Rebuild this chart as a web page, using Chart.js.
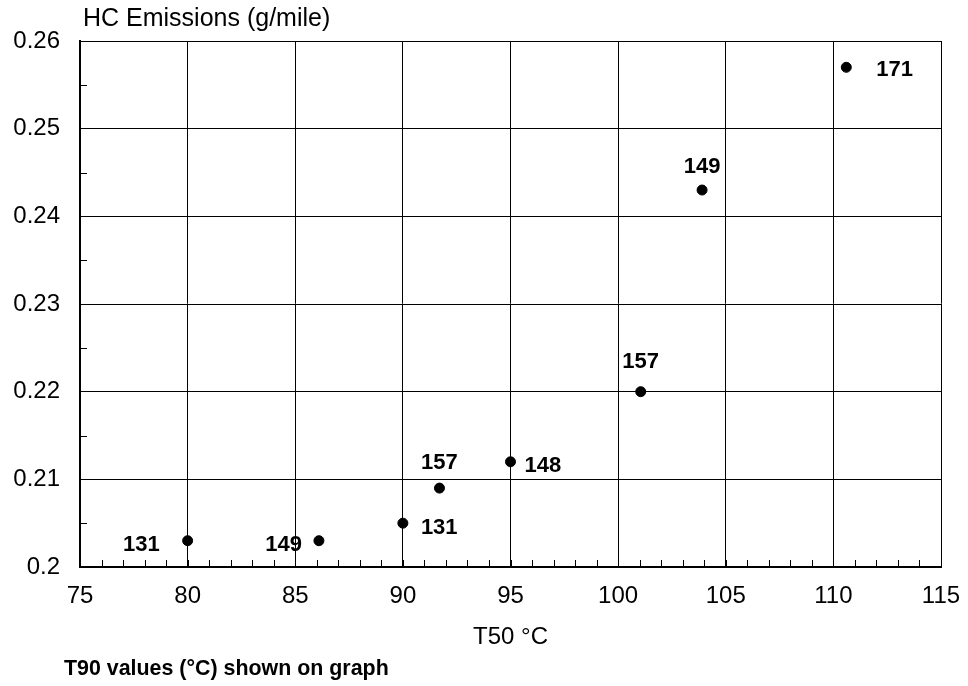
<!DOCTYPE html>
<html>
<head>
<meta charset="utf-8">
<script src="https://cdn.jsdelivr.net/npm/chart.js@4.4.0/dist/chart.umd.min.js"></script>
<style>
  html, body { margin:0; padding:0; background:#fff; }
  #wrap { width:968px; height:686px; position:relative; }
</style>
</head>
<body>
<div id="wrap"><canvas id="hcChart" width="968" height="686"></canvas></div>
<script>
// data
const t50 = [80, 86.1, 90, 91.7, 95, 101.05, 103.9, 110.6];
const hc = [0.203, 0.203, 0.205, 0.209, 0.212, 0.220, 0.243, 0.257];
const t90 = ['131', '149', '131', '157', '148', '157', '149', '171'];

const xTicks = [75, 80, 85, 90, 95, 100, 105, 110, 115];
const yTicks = [0.2, 0.21, 0.22, 0.23, 0.24, 0.25, 0.26];

// where each T90 label sits relative to its dot
const labelDx = [-28, -17, 18, 0, 14, 0, 0, 30];
const labelDy = [2, 2, 3, -27, 2, -31, -25, 1];
const labelAlign = ['right', 'right', 'left', 'center', 'left', 'center', 'center', 'left'];

const FONT = '"Liberation Sans", Arial, Helvetica, sans-serif';

const extrasPlugin = {
    id: 'extras',
    afterDatasetsDraw(chart) {
        const ctx = chart.ctx;
        const xs = chart.scales.x, ys = chart.scales.y;
        const area = chart.chartArea;
        ctx.save();
        // minor ticks, pointing into the plot
        ctx.strokeStyle = '#000';
        ctx.lineWidth = 1;
        ctx.beginPath();
        for (let v = xTicks[0]; v <= xTicks[xTicks.length - 1]; v += 1) {
            const px = Math.round(xs.getPixelForValue(v)) + 0.5;
            ctx.moveTo(px, area.bottom);
            ctx.lineTo(px, area.bottom - 7);
        }
        for (let i = 0; i < yTicks.length - 1; i++) {
            const py = Math.round(ys.getPixelForValue((yTicks[i] + yTicks[i + 1]) / 2)) + 0.5;
            ctx.moveTo(area.left, py);
            ctx.lineTo(area.left + 7, py);
        }
        ctx.stroke();

        // T90 labels
        ctx.fillStyle = '#000';
        ctx.font = 'bold 22px ' + FONT;
        ctx.textBaseline = 'alphabetic';
        t50.forEach((x, i) => {
            const px = xs.getPixelForValue(x) + labelDx[i];
            const py = ys.getPixelForValue(hc[i]) + labelDy[i] + 7.8;
            ctx.textAlign = labelAlign[i];
            ctx.fillText(t90[i], px, py);
        });

        // axis caption top-left and note at bottom
        ctx.textAlign = 'left';
        ctx.font = '25px ' + FONT;
        ctx.fillText('HC Emissions (g/mile)', area.left + 3, 26);
        ctx.font = 'bold 21.4px ' + FONT;
        ctx.fillText('T90 values (\u00B0C) shown on graph', 64, 675);
        ctx.restore();
    }
};

new Chart(document.getElementById('hcChart'), {
    type: 'scatter',
    data: {
        datasets: [{
            data: t50.map((x, i) => ({ x: x, y: hc[i] })),
            backgroundColor: '#000',
            borderColor: '#000',
            pointRadius: 5,
            pointHoverRadius: 5
        }]
    },
    options: {
        responsive: false,
        animation: false,
        layout: { padding: { left: 0, top: 41, right: 27, bottom: 0 } },
        plugins: { legend: { display: false }, tooltip: { enabled: false } },
        scales: {
            x: {
                type: 'linear',
                min: 75, max: 115,
                afterFit: s => { s.height = 119; s.paddingLeft = 0; s.paddingRight = 0; },
                afterBuildTicks: s => { s.ticks = xTicks.map(v => ({ value: v })); },
                ticks: { color: '#000', font: { family: FONT, size: 24 }, padding: 15, maxRotation: 0 },
                grid: { color: '#000', lineWidth: 1, drawTicks: false },
                border: { color: '#000', width: 2 },
                title: { display: true, text: 'T50 \u00B0C', color: '#000', font: { family: FONT, size: 24 }, padding: { top: 0, bottom: 34 } }
            },
            y: {
                type: 'linear',
                min: 0.2, max: 0.26,
                afterFit: s => { s.width = 80; s.paddingTop = 0; s.paddingBottom = 0; },
                afterBuildTicks: s => { s.ticks = yTicks.map(v => ({ value: v })); },
                ticks: {
                    color: '#000', font: { family: FONT, size: 24 }, padding: 20,
                    callback: v => String(Number(v.toFixed(3)))
                },
                grid: { color: '#000', lineWidth: 1, drawTicks: false },
                border: { color: '#000', width: 2 }
            }
        }
    },
    plugins: [extrasPlugin]
});
</script>
</body>
</html>
